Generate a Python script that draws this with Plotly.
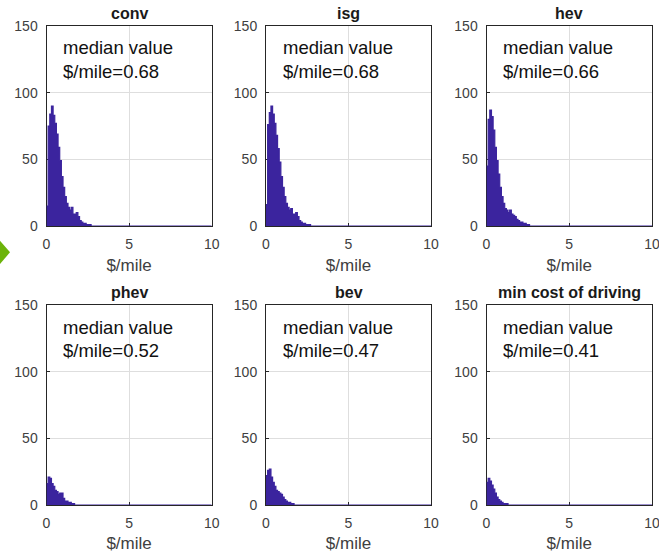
import plotly.graph_objects as go

W, H = 659, 553

TITLES = ["conv", "isg", "hev", "phev", "bev", "min cost of driving"]
MEDIANS = ["0.68", "0.68", "0.66", "0.52", "0.47", "0.41"]
BIN_WIDTH = 0.1
X_MAX = 10

# histogram counts per 0.1 $/mile bin, starting at 0 (remaining bins are empty)
conv_counts = [15, 75, 84, 90, 83, 77, 69, 59, 49, 37, 29, 22, 17, 14, 12, 14, 9, 9, 10, 7, 4, 3, 2, 2, 1, 1, 1]
isg_counts = [16, 76, 85, 90, 84, 77, 68, 58, 48, 37, 29, 22, 17, 14, 12, 13, 9, 9, 10, 7, 4, 3, 2, 2, 1, 1, 1]
hev_counts = [45, 80, 87, 82, 72, 59, 49, 39, 29, 22, 17, 13, 12, 10, 12, 9, 8, 7, 5, 4, 3, 3, 2, 2, 1, 1]
phev_counts = [16, 21, 20, 16, 14, 11, 10, 8, 9, 9, 5, 3, 3, 2, 2, 1, 1]
bev_counts = [22, 26, 27, 21, 17, 14, 11, 10, 9, 8, 6, 4, 3, 2, 2, 1, 1]
min_counts = [17, 20, 18, 15, 12, 9, 6, 4, 3, 2, 1, 1, 1]

ALL_COUNTS = [conv_counts, isg_counts, hev_counts, phev_counts, bev_counts, min_counts]

Y_TICKS = [0, 50, 100, 150]
X_TICKS = [0, 5, 10]

HIST_COLOR = "#3B249E"
FRAME = "#262626"
GRID = "#DEDEDE"
TICK_COLOR = "#404040"
FONT = "Liberation Sans, Arial, sans-serif"

# axes boxes in pixels (left, right, top, bottom)
cols = [(46.5, 211.7), (266.0, 431.0), (486.5, 652.0)]
rows = [(26.0, 226.0), (305.0, 505.0)]

fig = go.Figure()

for i, (title, med, counts) in enumerate(zip(TITLES, MEDIANS, ALL_COUNTS)):
    r, c = divmod(i, 3)
    xl, xr = cols[c]
    yt, yb = rows[r]
    n = i + 1
    xa = "x" if n == 1 else f"x{n}"
    ya = "y" if n == 1 else f"y{n}"
    xkey = "xaxis" if n == 1 else f"xaxis{n}"
    ykey = "yaxis" if n == 1 else f"yaxis{n}"

    edges = [round(k * BIN_WIDTH, 3) for k in range(len(counts) + 1)]
    xs = edges + [X_MAX]
    ys = counts + [0, 0]
    fig.add_trace(go.Scatter(
        x=xs, y=ys, mode="lines", line=dict(shape="hv", color=HIST_COLOR, width=1.2),
        fill="tozeroy", fillcolor=HIST_COLOR, xaxis=xa, yaxis=ya,
        showlegend=False, hoverinfo="skip"))

    fig.layout[xkey] = dict(
        domain=[xl / W, xr / W], range=[0, X_MAX], anchor=ya, automargin=False,
        tickvals=X_TICKS, ticktext=[str(v) for v in X_TICKS],
        showgrid=True, gridcolor=GRID, gridwidth=1, zeroline=False,
        showline=True, linecolor=FRAME, linewidth=1, mirror=True,
        ticks="inside", ticklen=3, tickcolor=FRAME,
        ticklabelstandoff=5, ticklabeloverflow="allow",
        tickfont=dict(family=FONT, size=14, color=TICK_COLOR),
        title=dict(text="$/mile", font=dict(family=FONT, size=17, color=TICK_COLOR), standoff=8),
        layer="below traces", fixedrange=True)
    fig.layout[ykey] = dict(
        domain=[1 - yb / H, 1 - yt / H], range=[0, 150], anchor=xa, automargin=False,
        tickvals=Y_TICKS, ticktext=[str(v) for v in Y_TICKS],
        showgrid=True, gridcolor=GRID, gridwidth=1, zeroline=False,
        showline=True, linecolor=FRAME, linewidth=1, mirror=True,
        ticks="inside", ticklen=3, tickcolor=FRAME,
        ticklabelstandoff=5, ticklabeloverflow="allow",
        tickfont=dict(family=FONT, size=14, color=TICK_COLOR),
        layer="below traces", fixedrange=True)

    # title
    fig.add_annotation(
        text=f"<b>{title}</b>", xref="paper", yref="paper",
        x=((xl + xr) / 2) / W, y=1 - (yt - 2) / H, xanchor="center", yanchor="bottom",
        showarrow=False, font=dict(family=FONT, size=16, color="#1a1a1a"))
    # median text
    fig.add_annotation(
        text="median value", xref=xa, yref=ya, x=0.88, y=133.5,
        xanchor="left", yanchor="middle", showarrow=False,
        font=dict(family=FONT, size=18.5, color="#111111"))
    fig.add_annotation(
        text=f"$/mile={med}", xref=xa, yref=ya, x=0.88, y=116.0,
        xanchor="left", yanchor="middle", showarrow=False,
        font=dict(family=FONT, size=18.5, color="#111111"))

# green slide marker at left edge
fig.add_shape(
    type="path", xref="paper", yref="paper",
    path=f"M 0 {1 - 240.7 / H} L {10 / W} {1 - 252.3 / H} L 0 {1 - 264 / H} Z",
    fillcolor="#6CB30A", line=dict(width=0))

fig.update_layout(
    width=W, height=H, margin=dict(l=0, r=0, t=0, b=0, autoexpand=False),
    paper_bgcolor="white", plot_bgcolor="white",
    font=dict(family=FONT))

fig.write_html("out.html", include_plotlyjs=True, config={"displayModeBar": False})
